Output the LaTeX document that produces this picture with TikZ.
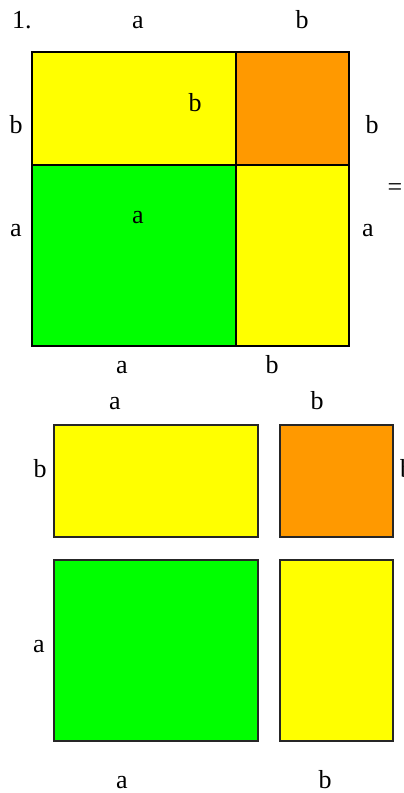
\documentclass[tikz,border=0pt]{standalone}
\usepackage{fontspec}
\setmainfont{Liberation Serif}
\definecolor{cyel}{HTML}{FFFF00}
\definecolor{corg}{HTML}{FF9900}
\definecolor{cgrn}{HTML}{00FF00}
\begin{document}
\begin{tikzpicture}[x=1pt,y=-1pt,
  lbl/.style={anchor=base,inner sep=0pt,font=\fontsize{26}{30}\selectfont},
  tile/.style={draw=black,line width=1.8pt},
  tile2/.style={draw=black!85,line width=1.5pt}]
\clip (0,0) rectangle (404,793);
\fill[white] (0,0) rectangle (404,793);
% top square
\filldraw[tile,fill=cyel] (32,52) rectangle (236,165);
\filldraw[tile,fill=corg] (236,52) rectangle (349,165);
\filldraw[tile,fill=cgrn] (32,165) rectangle (236,346);
\filldraw[tile,fill=cyel] (236,165) rectangle (349,346);
% labels top
\node[lbl] (n1) at (22,28) {1.};
\node[lbl] (ta) at (138,28) {a};
\node[lbl] (tb) at (302,28) {b};
\node[lbl] (ib) at (195,111) {b};
\node[lbl] (lb) at (16,133) {b};
\node[lbl] (rb) at (372,133) {b};
\node[lbl] (la) at (16,236) {a};
\node[lbl] (ia) at (138,223) {a};
\node[lbl] (ra) at (368,236) {a};
\node[lbl,anchor=center] (eq) at (395,190) {=};
\node[lbl] (ba) at (122,373) {a};
\node[lbl] (bb) at (272,373) {b};
% separated pieces
\node[lbl] (sa) at (115,409) {a};
\node[lbl] (sb) at (317,409) {b};
\filldraw[tile2,fill=cyel] (54,425) rectangle (258,537);
\filldraw[tile2,fill=corg] (280,425) rectangle (393,537);
\filldraw[tile2,fill=cgrn] (54,560) rectangle (258,741);
\filldraw[tile2,fill=cyel] (280,560) rectangle (393,741);
\node[lbl] (slb) at (40,477) {b};
\node[lbl,anchor=base west] (srb) at (400,477) {b};
\node[lbl] (sla) at (39,652) {a};
\node[lbl] (fa) at (122,788) {a};
\node[lbl] (fb) at (325,788) {b};
\end{tikzpicture}
\end{document}
